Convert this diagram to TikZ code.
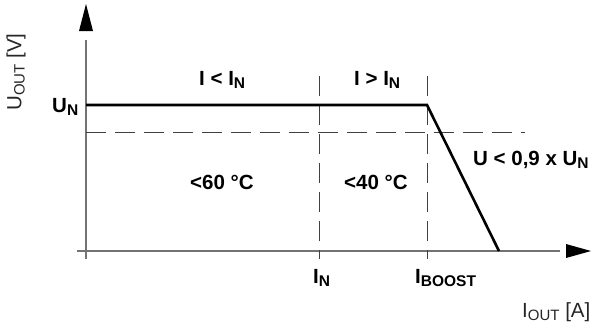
\documentclass[tikz,border=0pt]{standalone}
\usepackage{fontspec}
\setmainfont{Liberation Sans}
\usetikzlibrary{arrows.meta}
\newcommand{\mysub}[1]{\raisebox{-0.33ex}{\fontsize{15.5}{15.5}\selectfont #1}}
\newcommand{\mysubr}[1]{\raisebox{-0.3ex}{\fontsize{15}{15}\selectfont #1}}
\tikzset{
  axisline/.style={draw=black!55, line width=1.1pt},
  curve/.style={draw=black, line width=2.6pt, line join=miter},
  guide/.style={draw=black!75, line width=0.9pt, dash pattern=on 20pt off 9pt},
  blab/.style={font=\fontsize{20.5}{20.5}\selectfont\bfseries, inner sep=0pt, anchor=base west},
  alab/.style={font=\fontsize{20.5}{20.5}\selectfont, inner sep=0pt, text=black!85}
}
\begin{document}
\begin{tikzpicture}[x=1pt,y=-1pt]
\useasboundingbox (0,0) rectangle (591,325);
% axes
\coordinate (o) at (86,251);
\coordinate (ybot) at (86,259);
\coordinate (ytop) at (86,4);
\coordinate (xleft) at (77,251);
\coordinate (xright) at (591,251);
\draw[axisline] (ybot) -- (86,40);
\draw[axisline] (xleft) -- (560,251);
\fill[black] (ytop) -- (79,31) -- (93,31) -- cycle;
\fill[black] (xright) -- (566,244) -- (566,258) -- cycle;
% guides
\coordinate (dl) at (86,132);
\coordinate (dr) at (525,132);
\draw[guide] (dl) -- (dr);
\coordinate (in1) at (319,76);
\coordinate (in2) at (319,259);
\coordinate (ib1) at (427,76);
\coordinate (ib2) at (427,259);
\draw[guide] (in1) -- (in2);
\draw[guide] (ib1) -- (ib2);
% curve
\coordinate (c0) at (86,105);
\coordinate (c1) at (427,105);
\coordinate (c2) at (499,251);
\draw[curve] (c0) -- (c1) -- (c2);
% labels
\node[alab, rotate=90] (yl) at (16,72) {U\mysubr{OUT} [V]};
\node[alab, anchor=base west] (xl) at (522,317) {I\mysubr{OUT} [A]};
\node[blab] (un) at (52,112) {U\mysub{N}};
\node[blab] (r1) at (199,85) {I < I\mysub{N}};
\node[blab] (r2) at (354,85) {I > I\mysub{N}};
\node[blab] (u9) at (473,165) {U < 0,9 x U\mysub{N}};
\node[blab] (t1) at (190,189) {<60 °C};
\node[blab] (t2) at (344,189) {<40 °C};
\node[blab] (xn) at (313,283) {I\mysub{N}};
\node[blab] (xb) at (415,283) {I\mysub{BOOST}};
\end{tikzpicture}
\end{document}
